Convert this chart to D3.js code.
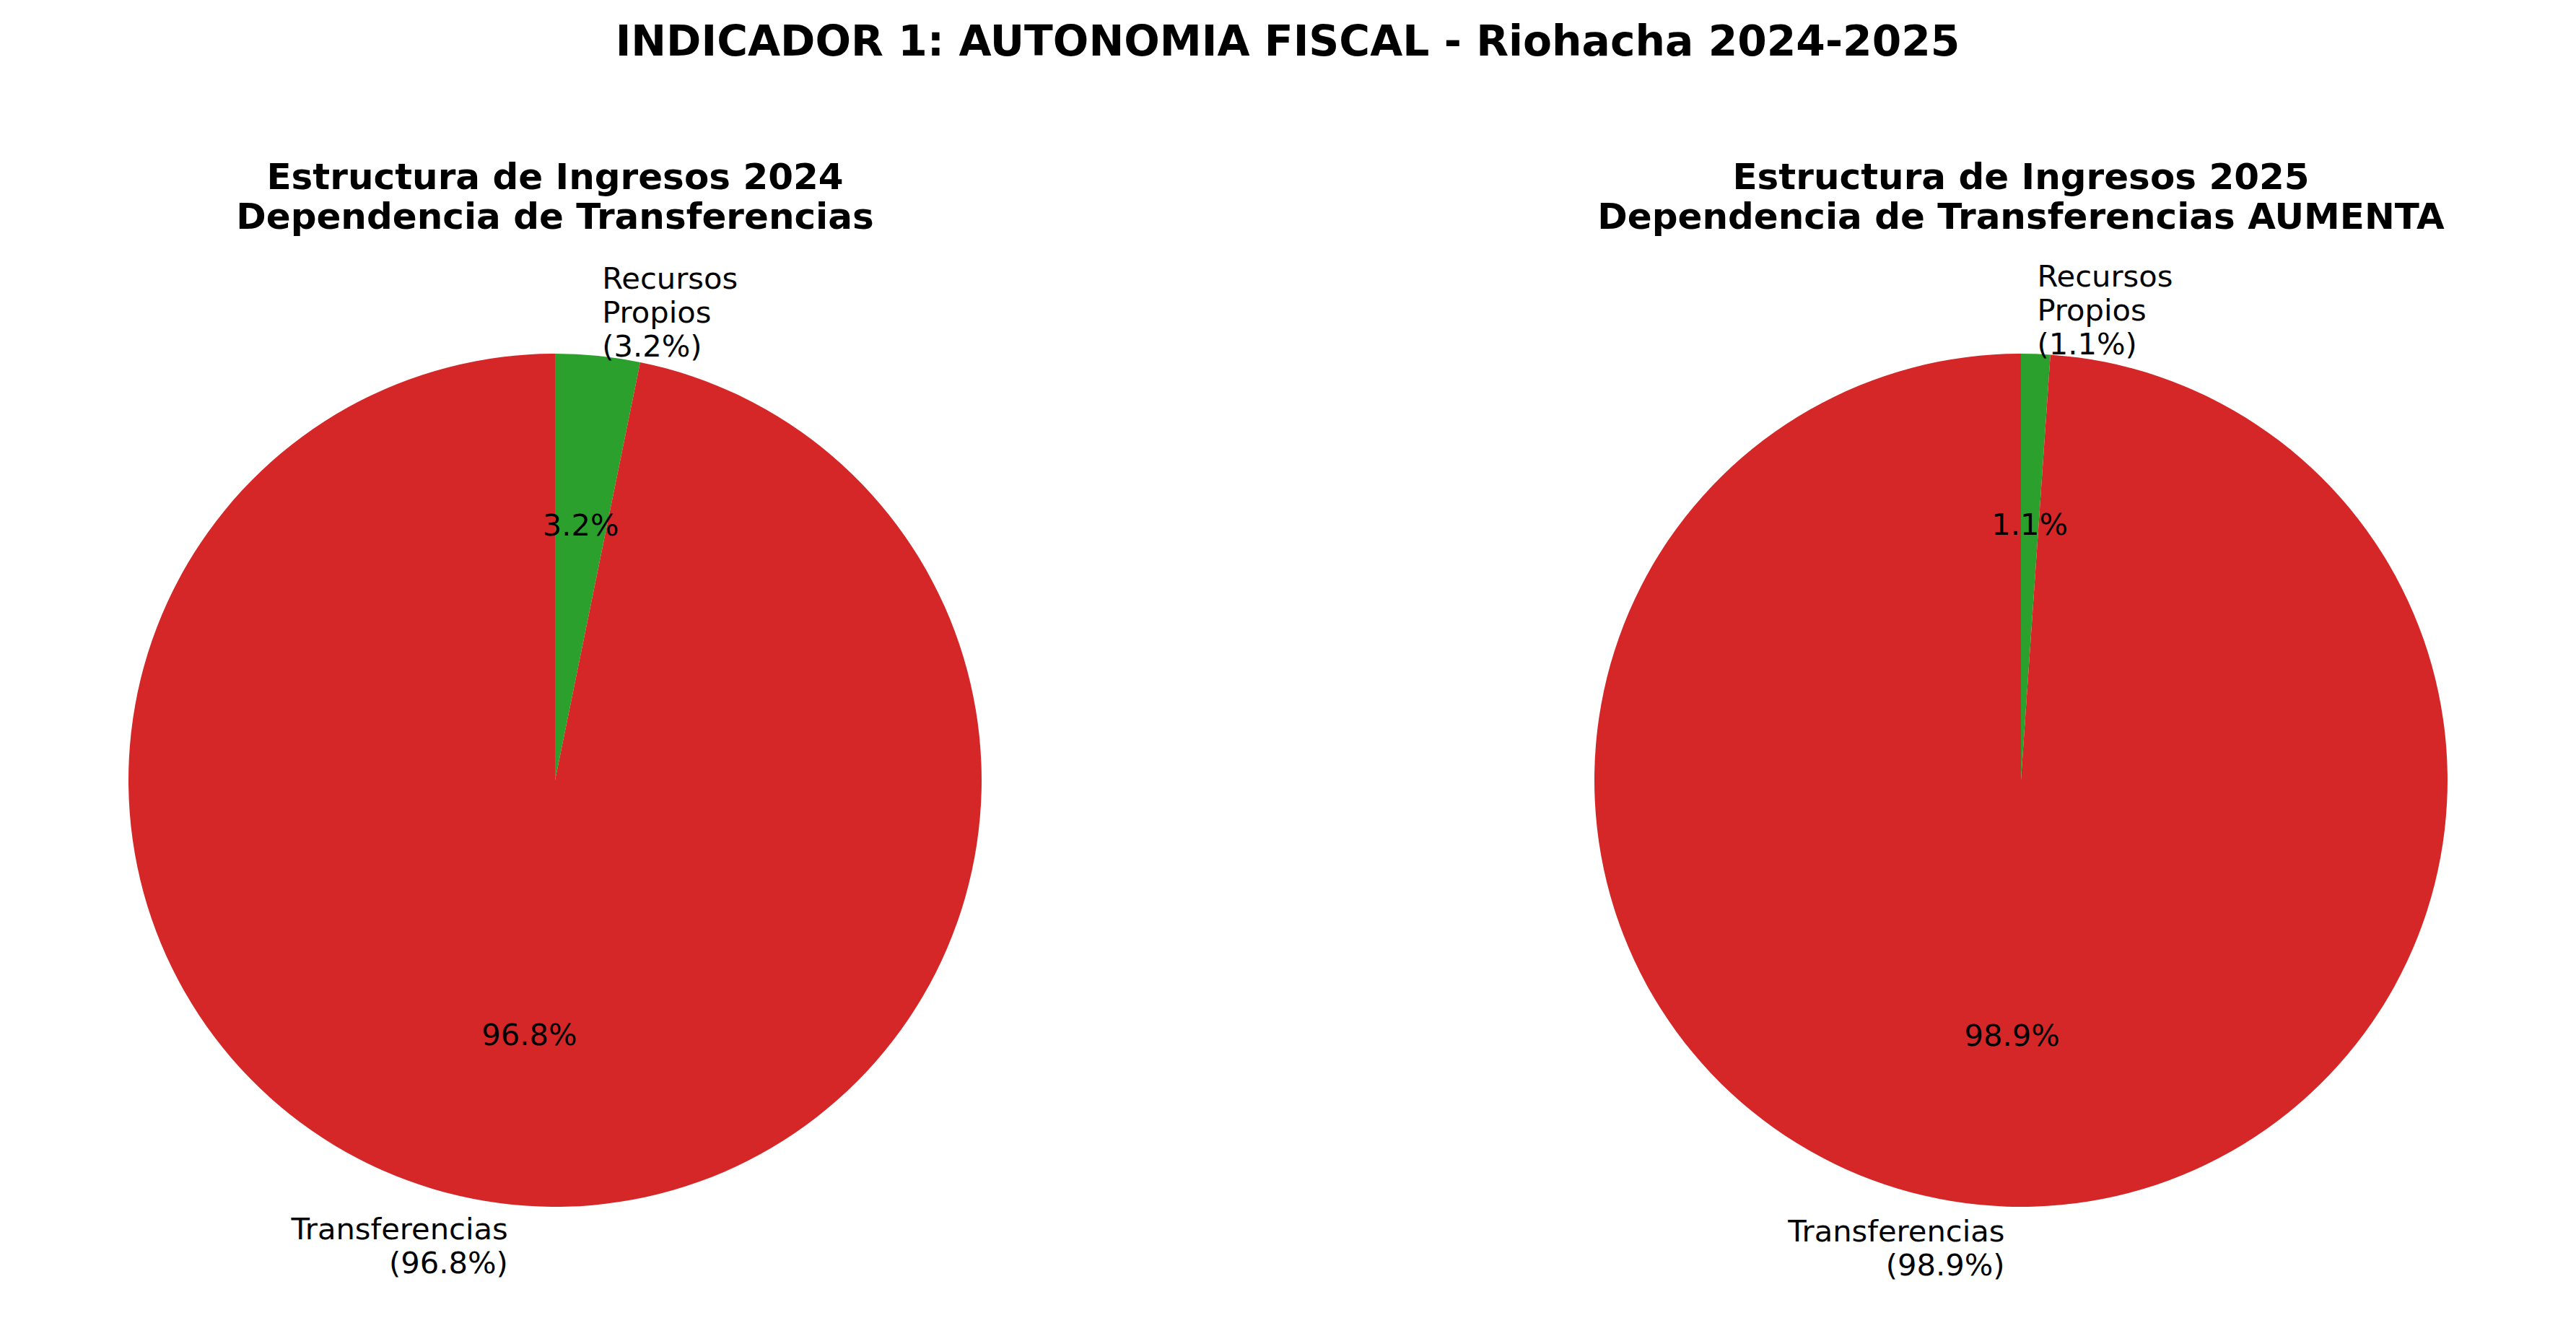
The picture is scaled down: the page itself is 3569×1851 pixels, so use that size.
<!DOCTYPE html>
<html>
<head>
<meta charset="utf-8">
<script src="https://cdn.jsdelivr.net/npm/d3@7"></script>
<style>
  body { margin: 0; background: #ffffff; }
  text { font-family: "DejaVu Sans", sans-serif; fill: #000; }
</style>
</head>
<body>
<div id="chart"></div>
<script>
let width = 3569
let height = 1851

// data
const years = ["2024", "2025"]
const categories = ["Recursos\nPropios", "Transferencias"]
const shares2024 = [3.2, 96.8]
const shares2025 = [1.1, 98.9]
const colors = ["#2ca02c", "#d62728"]
const mainTitle = "INDICADOR 1: AUTONOMIA FISCAL - Riohacha 2024-2025"
const subtitles = [
  ["Estructura de Ingresos 2024", "Dependencia de Transferencias"],
  ["Estructura de Ingresos 2025", "Dependencia de Transferencias AUMENTA"]
]

const panels = [shares2024, shares2025].map((vals, i) => ({
  year: years[i],
  title: subtitles[i],
  slices: vals.map((v, j) => ({ name: categories[j], value: v, color: colors[j] }))
}))

let svg = d3.select("#chart")
  .append("svg")
    .attr("width", width)
    .attr("height", height)
    .style("background", "#ffffff")

svg.append("text")
  .attr("x", 1784)
  .attr("y", 77)
  .attr("text-anchor", "middle")
  .style("font-size", "58.3px")
  .style("font-weight", "bold")
  .text(mainTitle)

let cx = d3.scalePoint().domain(years).range([769, 2800])
let cy = 1081
let radius = 591
let fs = 41.67
let lineStep = 47

let pie = d3.pie().sort(null).value(d => d.value)
let arc = d3.arc().innerRadius(0).outerRadius(radius)
let pctArc = d3.arc().innerRadius(radius * 0.6).outerRadius(radius * 0.6)
let labelArc = d3.arc().innerRadius(radius * 1.1).outerRadius(radius * 1.1)

// multi-line text, vertically centred on y like matplotlib va='center'
function multiline(sel, lines, x, y, anchor) {
  let n = lines.length
  lines.forEach((ln, k) => {
    sel.append("text")
      .attr("x", x)
      .attr("y", y + (k - (n - 1) / 2) * lineStep + 13)
      .attr("text-anchor", anchor)
      .style("font-size", fs + "px")
      .text(ln)
  })
}

panels.forEach(p => {
  let g = svg.append("g")
    .attr("transform", "translate(" + cx(p.year) + "," + cy + ")")

  // subtitle, two bold lines
  p.title.forEach((t, k) => {
    g.append("text")
      .attr("x", 0)
      .attr("y", 262 + k * 55 - cy)
      .attr("text-anchor", "middle")
      .style("font-size", "50px")
      .style("font-weight", "bold")
      .text(t)
  })

  let arcs = pie(p.slices)

  g.selectAll("path")
    .data(arcs)
    .enter()
    .append("path")
      .attr("d", arc)
      .attr("fill", d => d.data.color)

  arcs.forEach(d => {
    let [px, py] = pctArc.centroid(d)
    g.append("text")
      .attr("x", px)
      .attr("y", py + 14)
      .attr("text-anchor", "middle")
      .style("font-size", fs + "px")
      .text(d.data.value.toFixed(1) + "%")

    let [lx, ly] = labelArc.centroid(d)
    let anchor = lx > 0 ? "start" : "end"
    let lines = d.data.name.split("\n").concat(["(" + d.data.value.toFixed(1) + "%)"])
    multiline(g, lines, lx, ly, anchor)
  })
})
</script>
</body>
</html>
